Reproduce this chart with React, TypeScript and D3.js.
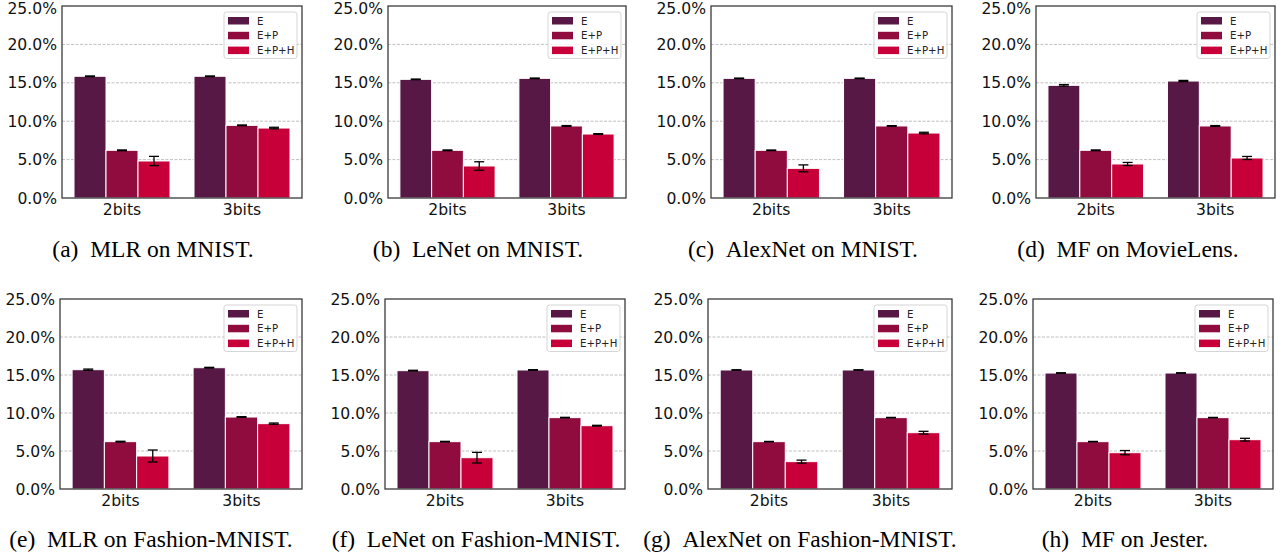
import React from "react";
import * as d3 from "d3";

const categories = ["2bits", "3bits"];
const seriesNames = ["E", "E+P", "E+P+H"];
const seriesColors = ["#581845", "#900C3F", "#C70039"];
const yTicks = [0, 5, 10, 15, 20, 25];

// values: per category [E, E+P, E+P+H]
const mlrMnistValues = [[15.85, 6.21, 4.82], [15.85, 9.46, 9.11]];
const mlrMnistErrors = [[0.04, 0.05, 0.6], [0.04, 0.05, 0.1]];
const lenetMnistValues = [[15.45, 6.21, 4.17], [15.58, 9.38, 8.33]];
const lenetMnistErrors = [[0.04, 0.05, 0.55], [0.04, 0.05, 0.05]];
const alexnetMnistValues = [[15.58, 6.21, 3.86], [15.58, 9.38, 8.46]];
const alexnetMnistErrors = [[0.03, 0.04, 0.45], [0.03, 0.04, 0.1]];
const mfMovielensValues = [[14.67, 6.21, 4.43], [15.23, 9.38, 5.21]];
const mfMovielensErrors = [[0.1, 0.05, 0.2], [0.08, 0.05, 0.2]];
const mlrFashionValues = [[15.7, 6.23, 4.34], [15.96, 9.47, 8.6]];
const mlrFashionErrors = [[0.08, 0.05, 0.79], [0.05, 0.05, 0.08]];
const lenetFashionValues = [[15.57, 6.23, 4.12], [15.66, 9.39, 8.33]];
const lenetFashionErrors = [[0.05, 0.04, 0.7], [0.04, 0.04, 0.05]];
const alexnetFashionValues = [[15.66, 6.23, 3.6], [15.66, 9.39, 7.41]];
const alexnetFashionErrors = [[0.03, 0.03, 0.2], [0.03, 0.03, 0.18]];
const mfJesterValues = [[15.26, 6.23, 4.78], [15.26, 9.39, 6.49]];
const mfJesterErrors = [[0.03, 0.03, 0.28], [0.03, 0.03, 0.18]];

const captions = [
  ["(a)", "MLR on MNIST."],
  ["(b)", "LeNet on MNIST."],
  ["(c)", "AlexNet on MNIST."],
  ["(d)", "MF on MovieLens."],
  ["(e)", "MLR on Fashion-MNIST."],
  ["(f)", "LeNet on Fashion-MNIST."],
  ["(g)", "AlexNet on Fashion-MNIST."],
  ["(h)", "MF on Jester."],
];

const panelValues = [
  mlrMnistValues, lenetMnistValues, alexnetMnistValues, mfMovielensValues,
  mlrFashionValues, lenetFashionValues, alexnetFashionValues, mfJesterValues,
];
const panelErrors = [
  mlrMnistErrors, lenetMnistErrors, alexnetMnistErrors, mfMovielensErrors,
  mlrFashionErrors, lenetFashionErrors, alexnetFashionErrors, mfJesterErrors,
];

// layout (plot rectangles)
const plotRects = [
  { l: 62, r: 302, t: 6, b: 198 },
  { l: 388, r: 626, t: 6, b: 198 },
  { l: 711, r: 952, t: 6, b: 198 },
  { l: 1036, r: 1275, t: 6, b: 198 },
  { l: 60, r: 302, t: 299, b: 489 },
  { l: 385, r: 625, t: 299, b: 489 },
  { l: 708, r: 952, t: 299, b: 489 },
  { l: 1033, r: 1273, t: 299, b: 489 },
];
const captionCenters = [153, 478, 803, 1128, 151, 476, 800, 1125];
const captionBaselines = [257, 257, 257, 257, 547, 547, 547, 547];

const SANS = "'DejaVu Sans', sans-serif";
const SERIF = "'Liberation Serif', 'Times New Roman', serif";

function Panel({ idx }: { idx: number }) {
  const rect = plotRects[idx];
  const values = panelValues[idx];
  const errors = panelErrors[idx];
  const x = d3.scaleLinear().domain([-0.5, 1.5]).range([rect.l, rect.r]);
  const y = d3.scaleLinear().domain([0, 25]).range([rect.b, rect.t]);
  const w = 0.8 / 3;
  const legX = rect.r - 78;
  const legY = rect.t + 6;
  return (
    <g>
      {yTicks.filter((t) => t > 0 && t < 25).map((t) => (
        <line key={"g" + t} x1={rect.l} x2={rect.r} y1={y(t)} y2={y(t)}
          stroke="#b0b0b0" strokeWidth={0.8} strokeDasharray="3,1.5" />
      ))}
      {categories.map((c, i) =>
        seriesNames.map((s, j) => {
          const x0 = x(i + (j - 1) * w - w / 2);
          const x1 = x(i + (j - 1) * w + w / 2);
          const v = values[i][j];
          return (
            <rect key={c + s} x={x0} y={y(v)} width={x1 - x0} height={y(0) - y(v)}
              fill={seriesColors[j]} stroke="#ffffff" strokeWidth={1} />
          );
        })
      )}
      {categories.map((c, i) =>
        seriesNames.map((s, j) => {
          const cx = x(i + (j - 1) * w);
          const v = values[i][j];
          const e = errors[i][j];
          return (
            <g key={"e" + c + s} stroke="#000" strokeWidth={1.3}>
              <line x1={cx} x2={cx} y1={y(v - e)} y2={y(v + e)} />
              <line x1={cx - 5} x2={cx + 5} y1={y(v - e)} y2={y(v - e)} />
              <line x1={cx - 5} x2={cx + 5} y1={y(v + e)} y2={y(v + e)} />
            </g>
          );
        })
      )}
      <rect x={rect.l} y={rect.t} width={rect.r - rect.l} height={rect.b - rect.t}
        fill="none" stroke="#3a3a3a" strokeWidth={1.3} />
      {yTicks.map((t) => (
        <text key={"t" + t} x={rect.l - 5} y={Math.max(y(t), 8)} dy="0.36em" textAnchor="end"
          fontFamily={SANS} fontSize={15.6} fill="#111">{t.toFixed(1) + "%"}</text>
      ))}
      {categories.map((c, i) => (
        <text key={"c" + c} x={x(i)} y={rect.b + 17} textAnchor="middle"
          fontFamily={SANS} fontSize={15.6} fill="#111">{c}</text>
      ))}
      <rect x={legX} y={legY} width={73} height={46.5} rx={2.5} ry={2.5}
        fill="#ffffff" fillOpacity={0.8} stroke="#d0d0d0" strokeWidth={0.9} />
      {seriesNames.map((s, j) => (
        <g key={"l" + s}>
          <rect x={legX + 4} y={legY + 5 + j * 14.8} width={21} height={7.5} fill={seriesColors[j]} />
          <text x={legX + 33} y={legY + 12.5 + j * 14.8} fontFamily={SANS} fontSize={10.2} fill="#222">{s}</text>
        </g>
      ))}
      <text x={captionCenters[idx]} y={captionBaselines[idx]} textAnchor="middle"
        fontFamily={SERIF} fontSize={23.5} fill="#000">
        {captions[idx][0] + "\u00A0\u00A0" + captions[idx][1]}
      </text>
    </g>
  );
}

export default function App() {
  return (
    <svg width={1284} height={558} style={{ position: "absolute", left: 0, top: 0, background: "#fff" }}>
      <rect x={0} y={0} width={1284} height={558} fill="#fff" />
      {plotRects.map((_, i) => <Panel key={i} idx={i} />)}
    </svg>
  );
}
